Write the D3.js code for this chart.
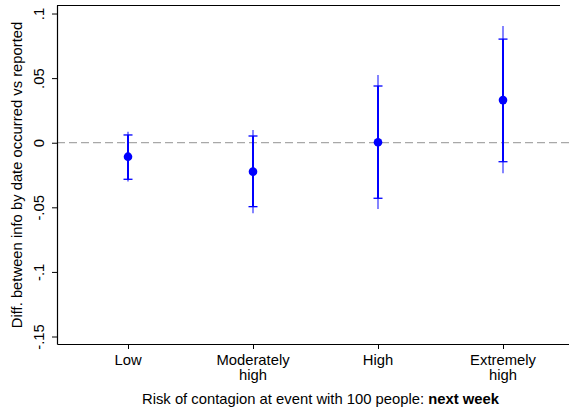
<!DOCTYPE html>
<html>
<head>
<meta charset="utf-8">
<script src="https://cdn.jsdelivr.net/npm/d3@7"></script>
<style>
  html, body { margin: 0; padding: 0; background: #fff; }
  svg { display: block; font-family: "Liberation Sans", Arial, Helvetica, sans-serif; }
</style>
</head>
<body>
<svg id="chart" width="569" height="413"></svg>
<script>
const categories = [["Low"], ["Moderately", "high"], ["High"], ["Extremely", "high"]];
const estimates = [-0.0108, -0.0224, 0.0003, 0.0330];
const ci90Low = [-0.0283, -0.0495, -0.0430, -0.0147];
const ci90High = [0.0060, 0.0052, 0.0439, 0.0802];
const ci95Low = [-0.0300, -0.0546, -0.0513, -0.0237];
const ci95High = [0.0085, 0.0098, 0.0524, 0.0903];
const yTicks = [0.1, 0.05, 0, -0.05, -0.1, -0.15];
const yTickLabels = [".1", ".05", "0", "-.05", "-.1", "-.15"];
const xTitle = "Risk of contagion at event with 100 people: ";
const xTitleBold = "next week";
const yTitle = "Diff. between info by date occurred vs reported";

const svg = d3.select("#chart");
const pLeft = 57, pRight = 569, pTop = 5, pBottom = 344;
const x = d3.scaleLinear().domain([0.432, 4.528]).range([pLeft, pRight]);
const y = d3.scaleLinear().domain([-0.1558, 0.1066]).range([pBottom, pTop]);
const blue = "#0000ff";
const fs = 14.8;

// top frame line
svg.append("line").attr("x1", pLeft).attr("x2", 560).attr("y1", pTop + 0.5).attr("y2", pTop + 0.5)
  .attr("stroke", "#000").attr("stroke-width", 1.2);

// zero reference line
svg.append("line").attr("x1", pLeft).attr("x2", pRight).attr("y1", y(0)).attr("y2", y(0))
  .attr("stroke", "#a8a8a8").attr("stroke-width", 1.3).attr("stroke-dasharray", "8,4");

// y axis
const yAxis = d3.axisLeft(y).tickValues(yTicks).tickSize(5).tickSizeOuter(0)
  .tickFormat((d, i) => yTickLabels[i]);
const gy = svg.append("g").attr("transform", `translate(${pLeft},0)`).call(yAxis);
gy.select(".domain").attr("stroke-width", 1.2);
gy.selectAll(".tick line").attr("stroke-width", 1);
gy.selectAll(".tick text")
  .attr("font-size", fs)
  .attr("fill", "#000")
  .attr("x", 0).attr("dy", 0)
  .attr("text-anchor", "middle")
  .attr("transform", "translate(-13,0) rotate(-90)");

// x axis
const xAxis = d3.axisBottom(x).tickValues([1, 2, 3, 4]).tickSize(5).tickSizeOuter(0).tickFormat("");
const gx = svg.append("g").attr("transform", `translate(0,${pBottom})`).call(xAxis);
gx.select(".domain").attr("stroke-width", 1.2);
categories.forEach((lines, i) => {
  const t = gx.append("text").attr("x", x(i + 1)).attr("y", 21)
    .attr("text-anchor", "middle").attr("font-size", fs).attr("fill", "#000");
  lines.forEach((l, j) => t.append("tspan").attr("x", x(i + 1)).attr("dy", j === 0 ? 0 : 15).text(l));
});

// axis titles
const xt = svg.append("text").attr("x", (134 + 507) / 2).attr("y", 404)
  .attr("text-anchor", "middle").attr("font-size", fs).attr("fill", "#000");
xt.append("tspan").text(xTitle);
xt.append("tspan").attr("font-weight", "bold").text(xTitleBold);

svg.append("text").attr("transform", `translate(22,175) rotate(-90)`)
  .attr("text-anchor", "middle").attr("font-size", fs).attr("fill", "#000").text(yTitle);

// data marks
const idx = d3.range(estimates.length);
const g = svg.append("g");
// outer thin spikes
g.selectAll(".spike").data(idx).join("line")
  .attr("x1", i => x(i + 1)).attr("x2", i => x(i + 1))
  .attr("y1", i => y(ci95High[i])).attr("y2", i => y(ci95Low[i]))
  .attr("stroke", blue).attr("stroke-width", 1.2).attr("opacity", 0.8);
// inner thick range
g.selectAll(".rng").data(idx).join("line")
  .attr("x1", i => x(i + 1)).attr("x2", i => x(i + 1))
  .attr("y1", i => y(ci90High[i])).attr("y2", i => y(ci90Low[i]))
  .attr("stroke", blue).attr("stroke-width", 2);
// caps
[ci90High, ci90Low].forEach(arr => {
  g.selectAll(null).data(idx).join("line")
    .attr("x1", i => x(i + 1) - 4.5).attr("x2", i => x(i + 1) + 4.5)
    .attr("y1", i => y(arr[i])).attr("y2", i => y(arr[i]))
    .attr("stroke", blue).attr("stroke-width", 1.3);
});
// points
g.selectAll("circle").data(idx).join("circle")
  .attr("cx", i => x(i + 1)).attr("cy", i => y(estimates[i])).attr("r", 4.3)
  .attr("fill", blue);
</script>
</body>
</html>
